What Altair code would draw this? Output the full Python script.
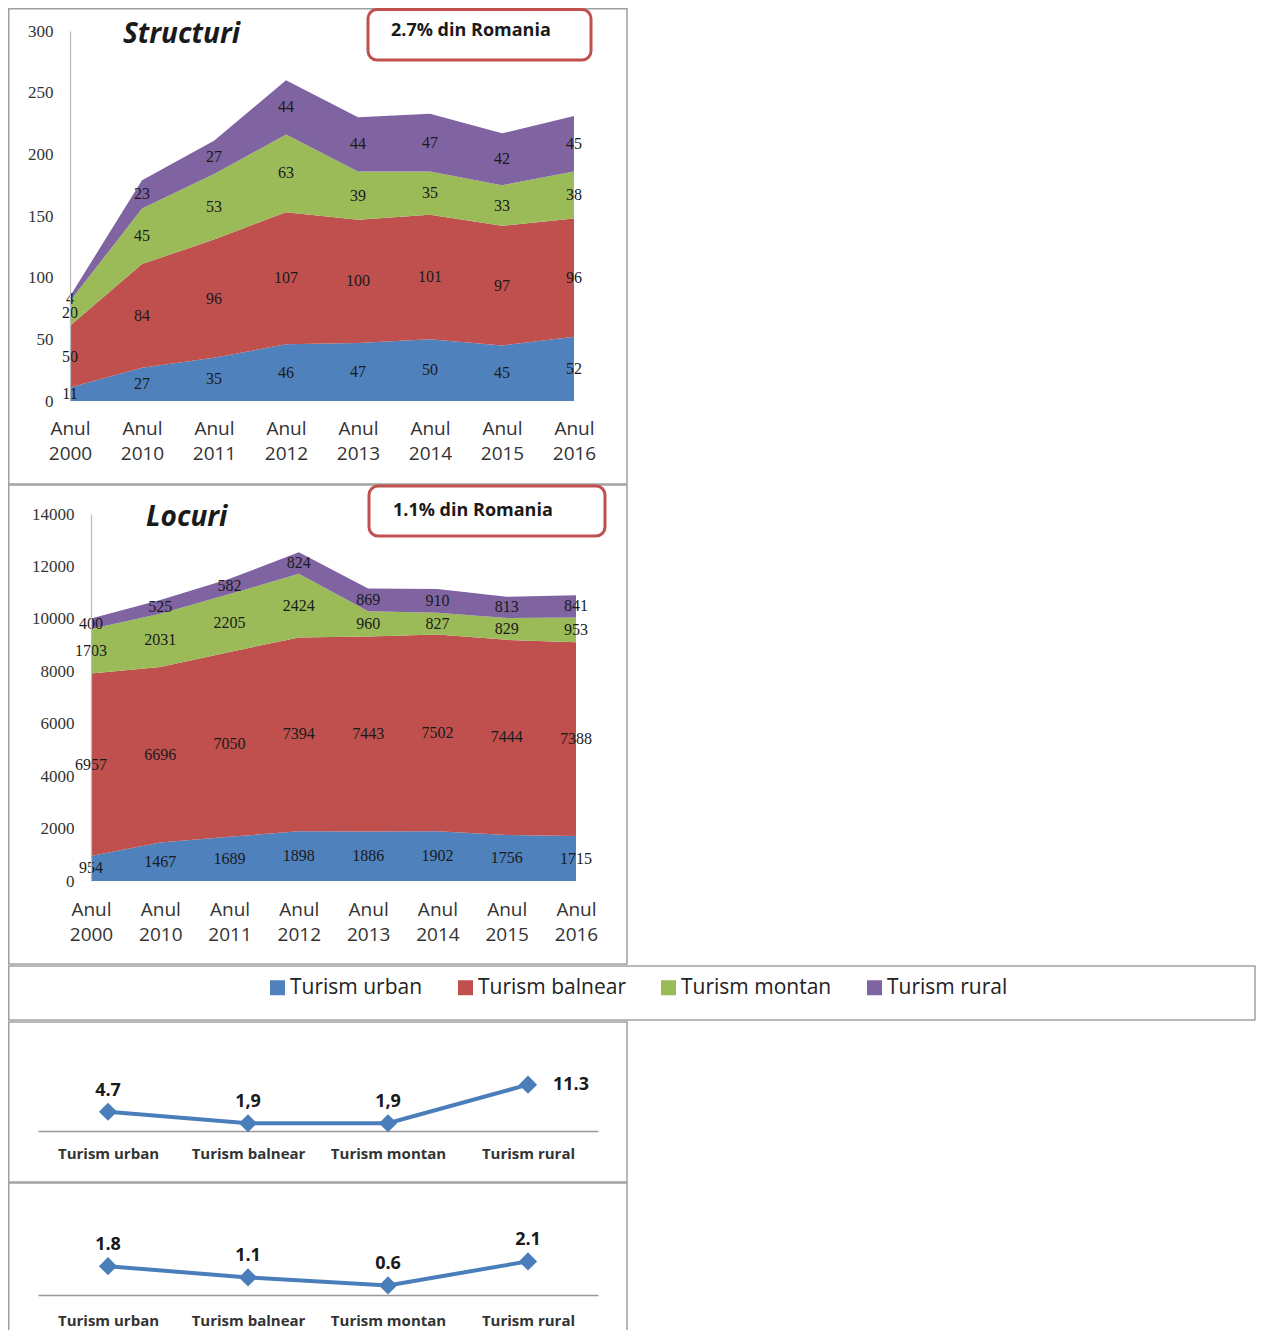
import altair as alt
import pandas as pd

# ---------------- data ----------------
years = ["Anul 2000", "Anul 2010", "Anul 2011", "Anul 2012",
         "Anul 2013", "Anul 2014", "Anul 2015", "Anul 2016"]
series = ["Turism urban", "Turism balnear", "Turism montan", "Turism rural"]
colors = ["#4f81bd", "#c0504d", "#9bbb59", "#8064a2"]

str_urban = [11, 27, 35, 46, 47, 50, 45, 52]
str_balnear = [50, 84, 96, 107, 100, 101, 97, 96]
str_montan = [20, 45, 53, 63, 39, 35, 33, 38]
str_rural = [4, 23, 27, 44, 44, 47, 42, 45]

loc_urban = [954, 1467, 1689, 1898, 1886, 1902, 1756, 1715]
loc_balnear = [6957, 6696, 7050, 7394, 7443, 7502, 7444, 7388]
loc_montan = [1703, 2031, 2205, 2424, 960, 827, 829, 953]
loc_rural = [400, 525, 582, 824, 869, 910, 813, 841]

ticks_str = [0, 50, 100, 150, 200, 250, 300]
ticks_loc = [0, 2000, 4000, 6000, 8000, 10000, 12000, 14000]

share_str = [4.7, 1.9, 1.9, 11.3]
share_str_labels = ["4.7", "1,9", "1,9", "11.3"]
share_loc = [1.8, 1.1, 0.6, 2.1]
share_loc_labels = ["1.8", "1.1", "0.6", "2.1"]

title_str = "Structuri"
title_loc = "Locuri"
note_str = "2.7% din Romania"
note_loc = "1.1% din Romania"

# ---------------- layout constants (canvas px) ----------------
W, H = 1248, 1322
BORDER = "#a0a0a0"
LABEL_FONT = "Open Sans"
NUM_FONT = "Liberation Serif"


def long_df(lists):
    rows = []
    for si, (s, vals) in enumerate(zip(series, lists)):
        for y, v in zip(years, vals):
            rows.append({"year": y, "series": s, "value": v, "order": si})
    return pd.DataFrame(rows)


df_str = long_df([str_urban, str_balnear, str_montan, str_rural])
df_loc = long_df([loc_urban, loc_balnear, loc_montan, loc_rural])

legend = alt.Legend(orient="none", legendX=259, legendY=969, direction="horizontal",
                    columns=4, title=None, symbolType="square", symbolSize=225,
                    symbolStrokeWidth=0, symbolOpacity=1, labelFont=LABEL_FONT,
                    labelFontSize=21, labelColor="#222", labelOffset=2,
                    columnPadding=32, padding=0, labelLimit=300)
color_scale = alt.Scale(domain=series, range=colors)


def area_panel(df, x_range, y_dom, y_range, ticks, yoff, xoff, lpad):
    xs = alt.Scale(type="point", domain=years, range=x_range, padding=0)
    ys = alt.Scale(domain=y_dom, range=y_range, nice=False, zero=True)
    base = alt.Chart(df).transform_stack(
        stack="value", groupby=["year"],
        sort=[alt.SortField("order", order="ascending")], as_=["y0", "y1"])
    area = base.mark_area(opacity=1, interpolate="linear").encode(
        x=alt.X("year:N", scale=xs, axis=alt.Axis(
            orient="bottom", offset=xoff, title=None, domain=False, ticks=False,
            labelExpr="split(datum.label, ' ')", labelFont=LABEL_FONT,
            labelFontSize=19, labelColor="#333", labelLineHeight=25,
            labelPadding=lpad, labelAngle=0, labelOverlap=False, zindex=1)),
        y=alt.Y("y1:Q", scale=ys, axis=alt.Axis(
            orient="left", offset=yoff, title=None, values=ticks, ticks=False,
            grid=False, domainColor="#bbbbbb", domainWidth=1.2, format="d",
            labelFont=NUM_FONT, labelFontSize=17, labelColor="#333",
            labelPadding=17, zindex=1)),
        y2="y0:Q",
        color=alt.Color("series:N", scale=color_scale, legend=legend),
        detail="series:N",
    )
    text = base.transform_calculate(mid="(datum.y0 + datum.y1) / 2").mark_text(
        font=NUM_FONT, fontSize=16, color="#1a1a1a").encode(
        x=alt.X("year:N", scale=xs, axis=None),
        y=alt.Y("mid:Q", scale=ys, axis=None),
        text="value:Q",
    )
    return [area, text]


one = alt.Data(values=[{"k": 1}])


def box(x1, x2, y1, y2, stroke=BORDER, sw=1.5, radius=0, filled=False):
    kw = dict(stroke=stroke, strokeWidth=sw, cornerRadius=radius, fill="white")
    if not filled:
        kw["fillOpacity"] = 0
    return alt.Chart(one).mark_rect(**kw).encode(
        x=alt.value(x1), x2=alt.value(x2), y=alt.value(y1), y2=alt.value(y2))


def label(txt, x, y, size, font=LABEL_FONT, weight="bold", style="normal", color="#1a1a1a"):
    return alt.Chart(one).mark_text(
        align="left", baseline="middle", font=font, fontSize=size,
        fontWeight=weight, fontStyle=style, color=color).encode(
        x=alt.value(x), y=alt.value(y), text=alt.value(txt))


def line_panel(vals, labs, y_dom, y_range, xoff, lpad, right_label=None):
    df = pd.DataFrame({"cat": series, "v": vals, "lab": labs})
    xs = alt.Scale(type="point", domain=series, range=[30, 590], padding=0.5)
    ys = alt.Scale(domain=y_dom, range=y_range, nice=False, zero=True)
    base = alt.Chart(df)
    line = base.mark_line(color="#4a7ebb", strokeWidth=4).encode(
        x=alt.X("cat:N", scale=xs, axis=alt.Axis(
            orient="bottom", offset=xoff, title=None, ticks=False,
            domainColor="#999999", domainWidth=1.5, labelFont=LABEL_FONT,
            labelFontSize=15, labelFontWeight="bold", labelColor="#333",
            labelPadding=lpad, labelAngle=0, labelOverlap=False, zindex=0)),
        y=alt.Y("v:Q", scale=ys, axis=None),
    )
    pts = base.mark_point(shape="diamond", filled=True, size=330,
                          color="#4a7ebb", opacity=1).encode(
        x=alt.X("cat:N", scale=xs, axis=None),
        y=alt.Y("v:Q", scale=ys, axis=None),
    )
    layers = [line, pts]
    above = base
    if right_label is not None:
        above = base.transform_filter(alt.datum.cat != right_label)
        right = base.transform_filter(alt.datum.cat == right_label).mark_text(
            align="left", baseline="middle", dx=25, font=LABEL_FONT, fontSize=18,
            fontWeight="bold", color="#1a1a1a").encode(
            x=alt.X("cat:N", scale=xs, axis=None),
            y=alt.Y("v:Q", scale=ys, axis=None), text="lab:N")
        layers.append(right)
    txt = above.mark_text(align="center", baseline="middle", dy=-21,
                          font=LABEL_FONT, fontSize=18, fontWeight="bold",
                          color="#1a1a1a").encode(
        x=alt.X("cat:N", scale=xs, axis=None),
        y=alt.Y("v:Q", scale=ys, axis=None), text="lab:N")
    layers.append(txt)
    return layers


layers = []
# panel borders (transparent inside)
layers += [box(0.75, 619, 0.75, 476), box(0.75, 619, 477, 956),
           box(0.75, 1247, 958, 1012), box(0.75, 619, 1014, 1174),
           box(0.75, 619, 1175, 1340)]

# Structuri panel
layers += area_panel(df_str, [62, 566], [0, 300], [393, 23], ticks_str,
                     -62, -(H - 393), 18)
layers += [label(title_str, 115, 27, 28, style="italic"),
           box(360, 583, 1.5, 52, stroke="#c0504d", sw=3, radius=9, filled=True),
           label(note_str, 383, 23, 18)]

# Locuri panel
layers += area_panel(df_loc, [83, 568], [0, 14000], [873, 506], ticks_loc,
                     -83, -(H - 873), 19)
layers += [label(title_loc, 138, 510, 28, style="italic"),
           box(361, 597, 478, 528, stroke="#c0504d", sw=3, radius=9, filled=True),
           label(note_loc, 385, 503, 18)]

# share line panels
layers += line_panel(share_str, share_str_labels, [0, 12], [1123, 1123 - 49.2],
                     -(H - 1123), 15, right_label="Turism rural")
layers += line_panel(share_loc, share_loc_labels, [0, 3], [1287, 1239],
                     -(H - 1287), 18)

chart = alt.layer(*layers).resolve_scale(
    x="independent", y="independent"
).properties(
    width=W, height=H, padding=0, autosize="none", background="white"
).configure_view(stroke=None)

chart.save("out.html", embed_options={"renderer": "svg", "actions": False})
